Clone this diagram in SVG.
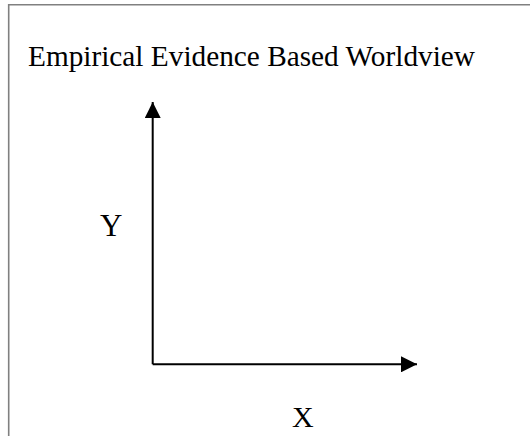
<svg xmlns="http://www.w3.org/2000/svg" width="530" height="436" viewBox="0 0 530 436">
<style>
text{font-family:"Liberation Serif","Times New Roman",Times,serif;fill:#000}
.ax{stroke:#000;stroke-width:2;fill:none}
</style>
<defs>
<marker id="ah" markerWidth="16" markerHeight="16" viewBox="0 0 16 16" refX="16" refY="8" orient="auto" markerUnits="userSpaceOnUse">
<path d="M0,0 L16,8 L0,16 Z" fill="#000"/>
</marker>
</defs>
<rect width="530" height="436" fill="#fff"/>
<path d="M8.7,436 V4.7 H530" stroke="#808080" stroke-width="1.6" fill="none"/>
<g id="title"><text font-family="Liberation Serif, serif" x="28" y="66" font-size="29.3">Empirical Evidence Based Worldview</text></g>
<g id="connectors">
<path class="ax" d="M152.7,364.3 V102" marker-end="url(#ah)"/>
<path class="ax" d="M152.7,364.3 H417" marker-end="url(#ah)"/>
</g>
<g id="label-y"><text font-family="Liberation Serif, serif" x="100" y="236" font-size="31">Y</text></g>
<g id="label-x"><text font-family="Liberation Serif, serif" x="292" y="427.3" font-size="30">X</text></g>
</svg>
